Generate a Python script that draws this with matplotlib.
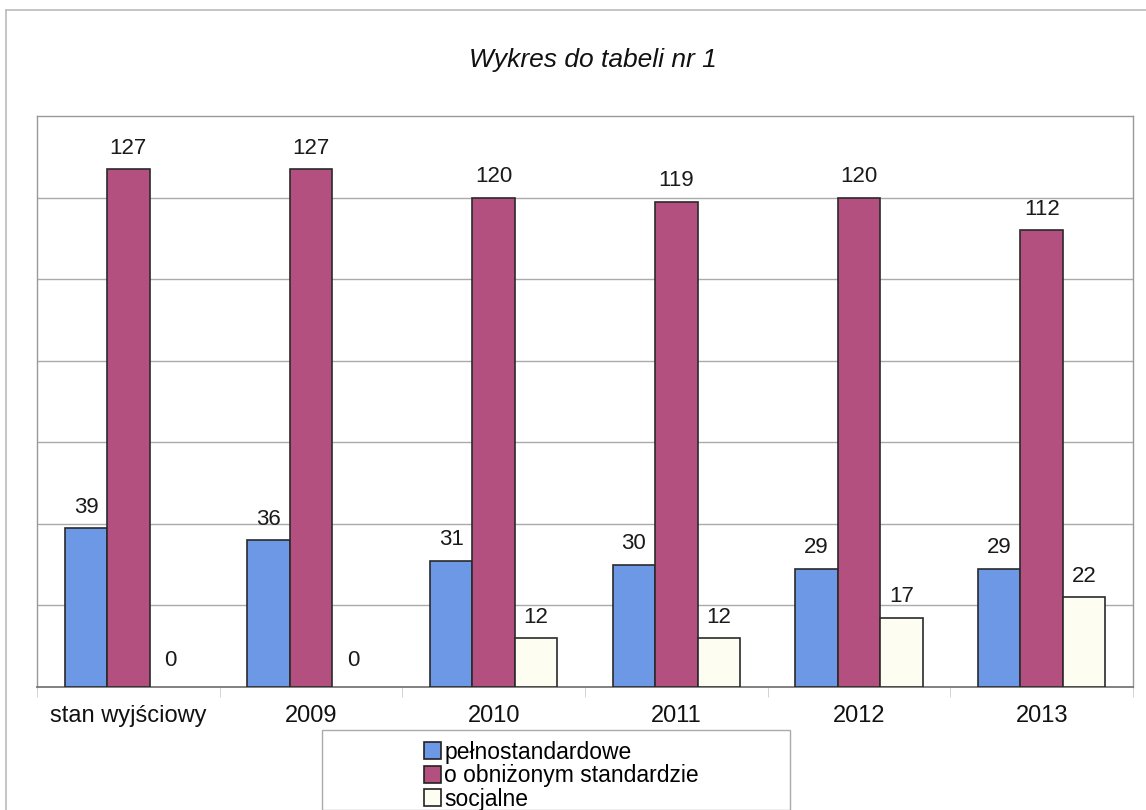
import numpy as np
import matplotlib.pyplot as plt
from matplotlib.patches import Patch, Rectangle
from matplotlib.lines import Line2D

plt.rcParams['font.family'] = ['Liberation Sans', 'DejaVu Sans']

# dane
kategorie = ["stan wyjściowy", "2009", "2010", "2011", "2012", "2013"]
pelnostandardowe = [39, 36, 31, 30, 29, 29]
obnizony = [127, 127, 120, 119, 120, 112]
socjalne = [0, 0, 12, 12, 17, 22]
serie = ["pełnostandardowe", "o obniżonym standardzie", "socjalne"]
kolory = ["#6d98e6", "#b3507f", "#fdfdf2"]

W, H = 1146, 810
fig = plt.figure(figsize=(W / 100, H / 100), dpi=100)

# zewnętrzna ramka wykresu
fig.add_artist(Line2D([6 / W, 6 / W], [0, 1 - 10 / H], color="#bbbbbb", lw=1.2))
fig.add_artist(Line2D([6 / W, 1], [1 - 10 / H, 1 - 10 / H], color="#bbbbbb", lw=1.2))

ax = fig.add_axes([37 / W, (H - 687) / H, 1096 / W, 571 / H])

x = np.arange(len(kategorie))
bw = 0.232
wartosci = [pelnostandardowe, obnizony, socjalne]
for i, (vals, kol) in enumerate(zip(wartosci, kolory)):
    pos = x + (i - 1) * bw
    lws = [1.2 if v > 0 else 0 for v in vals]
    ax.bar(pos, vals, bw, color=kol, edgecolor="#2a2a2a", linewidth=lws, zorder=3)
    for px, v in zip(pos, vals):
        off = 19 if v == 0 else 15
        ax.annotate(str(v), (px, v), xytext=(0, off), textcoords="offset points",
                    ha="center", va="center", fontsize=16, color="#1a1a1a")

ax.set_xlim(-0.5, len(kategorie) - 0.5)
ax.set_ylim(0, 140)
ax.set_yticks(np.arange(20, 140, 20))
ax.yaxis.grid(True, color="#aaaaaa", lw=1.0, zorder=0)
ax.tick_params(axis="y", left=False, labelleft=False)

ax.set_xticks(x)
ax.set_xticklabels(kategorie, fontsize=17, color="#111111")
ax.tick_params(axis="x", length=0, pad=13)
ax.set_xticks(np.arange(-0.5, len(kategorie), 1.0), minor=True)
ax.tick_params(axis="x", which="minor", length=7, color="#cccccc")

for s in ["top", "right", "left"]:
    ax.spines[s].set_color("#999999")
    ax.spines[s].set_linewidth(1.0)
ax.spines["bottom"].set_color("#777777")
ax.spines["bottom"].set_linewidth(1.3)

fig.text(0.5 + 20 / W, 1 - 60 / H, "Wykres do tabeli nr 1", ha="center", va="center",
         fontsize=19, style="italic", color="#111111")

# legenda
fig.add_artist(Rectangle((322 / W, 0), 468 / W, (H - 730) / H, transform=fig.transFigure,
                         fill=False, edgecolor="#aaaaaa", lw=1.0))
uchwyty = [Patch(facecolor=k, edgecolor="#222222", lw=1.2) for k in kolory]
fig.legend(uchwyty, serie, loc="upper left", bbox_to_anchor=(410 / W, 1 - 727 / H),
           frameon=False, fontsize=16.5, handlelength=0.75, handleheight=0.75,
           handletextpad=0.15, labelspacing=0.02, borderpad=0.1)

fig.savefig("out.png", dpi=100)
